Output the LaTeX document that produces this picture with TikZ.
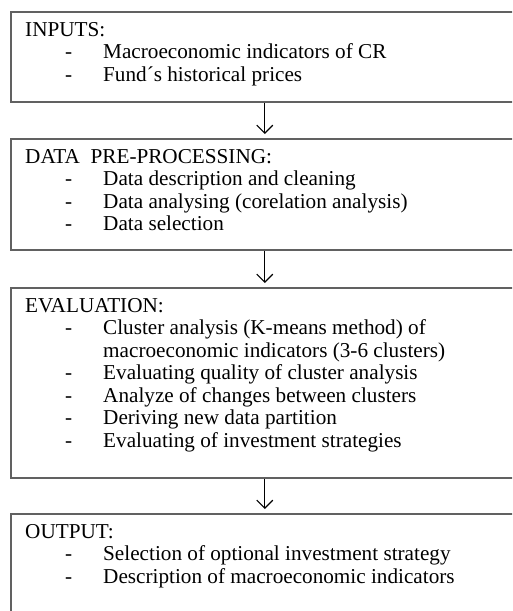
\documentclass[tikz,border=0pt]{standalone}
\usepackage{fontspec}
\setmainfont{Liberation Serif}
\usetikzlibrary{arrows.meta}
\begin{document}
\begin{tikzpicture}[x=1pt,y=1pt,
  box/.style={draw=black!62, line width=1.6pt, rectangle, inner sep=0pt, anchor=north west, minimum width=508pt},
  txt/.style={inner sep=0pt, anchor=base west, font=\fontsize{21.2}{22.5}\selectfont},
  flow/.style={line width=1.2pt, -{Straight Barb[length=8pt,width=16pt,line width=1.2pt]}, shorten >=4pt}]
\useasboundingbox (0,0) rectangle (512,-611);
\clip (0,0) rectangle (512,-611);
% boxes
\node[box, minimum height=90pt] (b1) at (10,-11) {};
\node[box, minimum height=111pt] (b2) at (10,-138) {};
\node[box, minimum height=190pt] (b3) at (10,-287) {};
\node[box, minimum height=130pt] (b4) at (10,-513) {};
% connectors
\draw[flow] (b1.south) -- (b2.north);
\draw[flow] (b2.south) -- (b3.north);
\draw[flow] (b3.south) -- (b4.north);
% box 1
\node[txt] (h1) at (25,-36) {INPUTS:};
\node[txt] (d11) at (65,-58.5) {-};
\node[txt] (t11) at (103,-58.5) {Macroeconomic indicators of CR};
\node[txt] (d12) at (65,-81) {-};
\node[txt] (t12) at (103,-81) {Fund´s historical prices};
% box 2
\node[txt] (h2) at (25,-163) {DATA\ \ PRE-PROCESSING:};
\node[txt] (d21) at (65,-185.5) {-};
\node[txt] (t21) at (103,-185.5) {Data description and cleaning};
\node[txt] (d22) at (65,-208) {-};
\node[txt] (t22) at (103,-208) {Data analysing (corelation analysis)};
\node[txt] (d23) at (65,-230.5) {-};
\node[txt] (t23) at (103,-230.5) {Data selection};
% box 3
\node[txt] (h3) at (25,-312) {EVALUATION:};
\node[txt] (d31) at (65,-334.5) {-};
\node[txt] (t31) at (103,-334.5) {Cluster analysis (K-means method) of};
\node[txt] (t31b) at (103,-357) {macroeconomic indicators (3-6 clusters)};
\node[txt] (d32) at (65,-379.5) {-};
\node[txt] (t32) at (103,-379.5) {Evaluating quality of cluster analysis};
\node[txt] (d33) at (65,-402) {-};
\node[txt] (t33) at (103,-402) {Analyze of changes between clusters};
\node[txt] (d34) at (65,-424.5) {-};
\node[txt] (t34) at (103,-424.5) {Deriving new data partition};
\node[txt] (d35) at (65,-447) {-};
\node[txt] (t35) at (103,-447) {Evaluating of investment strategies};
% box 4
\node[txt] (h4) at (25,-538) {OUTPUT:};
\node[txt] (d41) at (65,-560.5) {-};
\node[txt] (t41) at (103,-560.5) {Selection of optional investment strategy};
\node[txt] (d42) at (65,-583) {-};
\node[txt] (t42) at (103,-583) {Description of macroeconomic indicators};
\end{tikzpicture}
\end{document}
